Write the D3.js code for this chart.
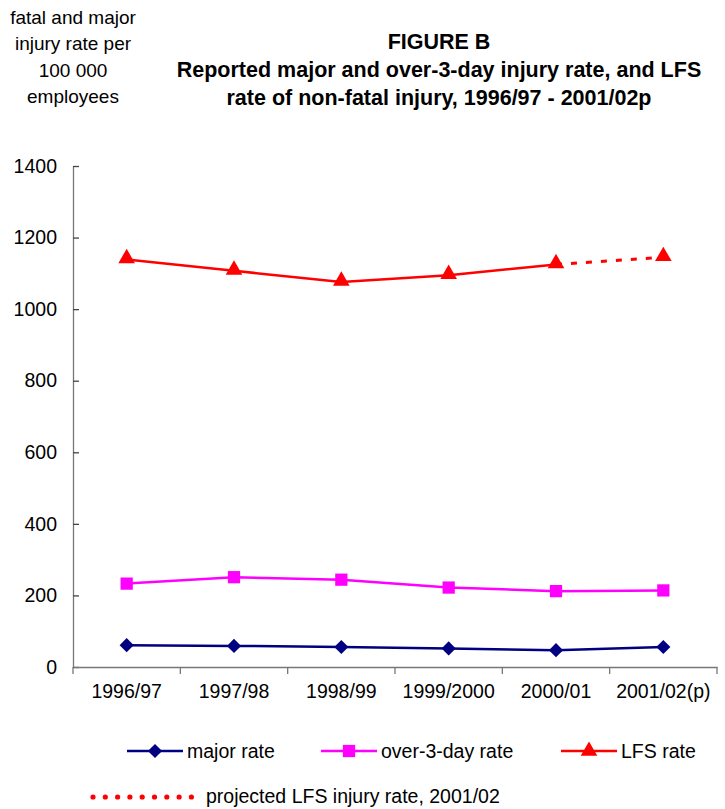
<!DOCTYPE html>
<html>
<head>
<meta charset="utf-8">
<script src="https://cdn.jsdelivr.net/npm/d3@7"></script>
<style>
  body { margin: 0; background: #fff; }
  text { font-family: "Liberation Sans", Arial, sans-serif; }
</style>
</head>
<body>
<script>
// data
var years = ["1996/97", "1997/98", "1998/99", "1999/2000", "2000/01", "2001/02(p)"];
var majorRate = [61, 59, 56, 52, 47, 56];
var over3Rate = [233, 251, 244, 222, 212, 214];
var lfsRate = [1139, 1107, 1076, 1095, 1125, 1145];
var yTicks = [0, 200, 400, 600, 800, 1000, 1200, 1400];

var w = 725, h = 809;
var svg = d3.select("body").append("svg")
  .attr("width", w).attr("height", h);

var x = d3.scaleBand().domain(years).range([73, 717]);
var y = d3.scaleLinear().domain([0, 1400]).range([667, 166]);
var cx = function(d) { return x(d) + x.bandwidth() / 2; };

// axis label (top left)
var ylab = ["fatal and major", "injury rate per", "100 000", "employees"];
svg.selectAll(".ylab").data(ylab).enter().append("text")
  .attr("x", 73).attr("y", function(d, i) { return 24 + i * 26.3; })
  .attr("text-anchor", "middle").attr("font-size", "19px").text(function(d) { return d; });

// title
var title = ["FIGURE B", "Reported major and over-3-day injury rate, and LFS", "rate of non-fatal injury, 1996/97 - 2001/02p"];
svg.selectAll(".title").data(title).enter().append("text")
  .attr("x", 439).attr("y", function(d, i) { return 49 + i * 28; })
  .attr("text-anchor", "middle").attr("font-size", "21.5px").attr("font-weight", "bold")
  .text(function(d) { return d; });

// axes
var yAxis = svg.append("g").attr("transform", "translate(73,0)")
  .call(d3.axisLeft(y).tickValues(yTicks).tickFormat(d3.format("d"))
    .tickSizeInner(-6).tickSizeOuter(0).tickPadding(16));
var xAxis = svg.append("g").attr("transform", "translate(0,667)")
  .call(d3.axisBottom(x).tickSize(0).tickPadding(17));
// category boundary ticks
svg.append("g").selectAll("line").data(d3.range(years.length + 1)).enter().append("line")
  .attr("x1", function(i) { return 73 + i * x.bandwidth(); })
  .attr("x2", function(i) { return 73 + i * x.bandwidth(); })
  .attr("y1", 667).attr("y2", 674).attr("stroke", "#777").attr("stroke-width", 1.3);

[yAxis, xAxis].forEach(function(g) {
  g.selectAll("path").attr("stroke", "#777").attr("stroke-width", 1.3);
  g.selectAll(".tick line").attr("stroke", "#444").attr("stroke-width", 1.3);
  g.selectAll("text").attr("font-size", "19.5px").attr("fill", "#000")
    .attr("font-family", "'Liberation Sans', Arial, sans-serif");
});

var line = d3.line().x(function(d) { return cx(d[0]); }).y(function(d) { return y(d[1]); });
function pairs(vals) { return vals.map(function(v, i) { return [years[i], v]; }); }

// diamond = square turned 45deg
var series = [
  { vals: majorRate, color: "#000080", sym: d3.symbolSquare, size: 100, rot: 45 },
  { vals: over3Rate, color: "#FF00FF", sym: d3.symbolSquare, size: 150, rot: 0 },
  { vals: lfsRate, color: "#FF0000", sym: d3.symbolTriangle, size: 120, rot: 0 }
];

// projected LFS segment (dotted)
svg.append("path")
  .attr("d", line(pairs(lfsRate).slice(4)))
  .attr("fill", "none").attr("stroke", "#FF0000").attr("stroke-width", 3)
  .attr("stroke-dasharray", "6,9");

series.forEach(function(s, k) {
  var pts = pairs(s.vals);
  var solid = k === 2 ? pts.slice(0, 5) : pts;
  svg.append("path").attr("d", line(solid))
    .attr("fill", "none").attr("stroke", s.color).attr("stroke-width", 2.5);
  svg.selectAll(".m" + k).data(pts).enter().append("path")
    .attr("d", d3.symbol().type(s.sym).size(s.size))
    .attr("transform", function(d) {
      return "translate(" + cx(d[0]) + "," + (y(d[1]) + (k === 2 ? -1 : 0)) + ") rotate(" + s.rot + ")";
    })
    .attr("fill", s.color);
});

// legend
var legend = [
  { name: "major rate", x: 127, s: series[0] },
  { name: "over-3-day rate", x: 321, s: series[1] },
  { name: "LFS rate", x: 561, s: series[2] }
];
var lg = svg.selectAll(".lg").data(legend).enter().append("g")
  .attr("transform", function(d) { return "translate(" + d.x + ",751)"; });
lg.append("line").attr("x1", 0).attr("x2", 56)
  .attr("stroke", function(d) { return d.s.color; }).attr("stroke-width", 2.5);
lg.append("path")
  .attr("d", function(d) { return d3.symbol().type(d.s.sym).size(d.s.size)(); })
  .attr("transform", function(d) { return "translate(28,0) rotate(" + d.s.rot + ")"; })
  .attr("fill", function(d) { return d.s.color; });
lg.append("text").attr("x", 60).attr("y", 7).attr("font-size", "19.5px")
  .text(function(d) { return d.name; });

svg.append("g").selectAll("circle").data(d3.range(9)).enter().append("circle")
  .attr("cx", function(i) { return 93 + i * 12.3; }).attr("cy", 797).attr("r", 2.6)
  .attr("fill", "#FF0000");
svg.append("text").attr("x", 206).attr("y", 803).attr("font-size", "19.5px")
  .attr("font-family", "Lato, 'Open Sans', sans-serif")
  .text("projected LFS injury rate, 2001/02");
</script>
</body>
</html>
